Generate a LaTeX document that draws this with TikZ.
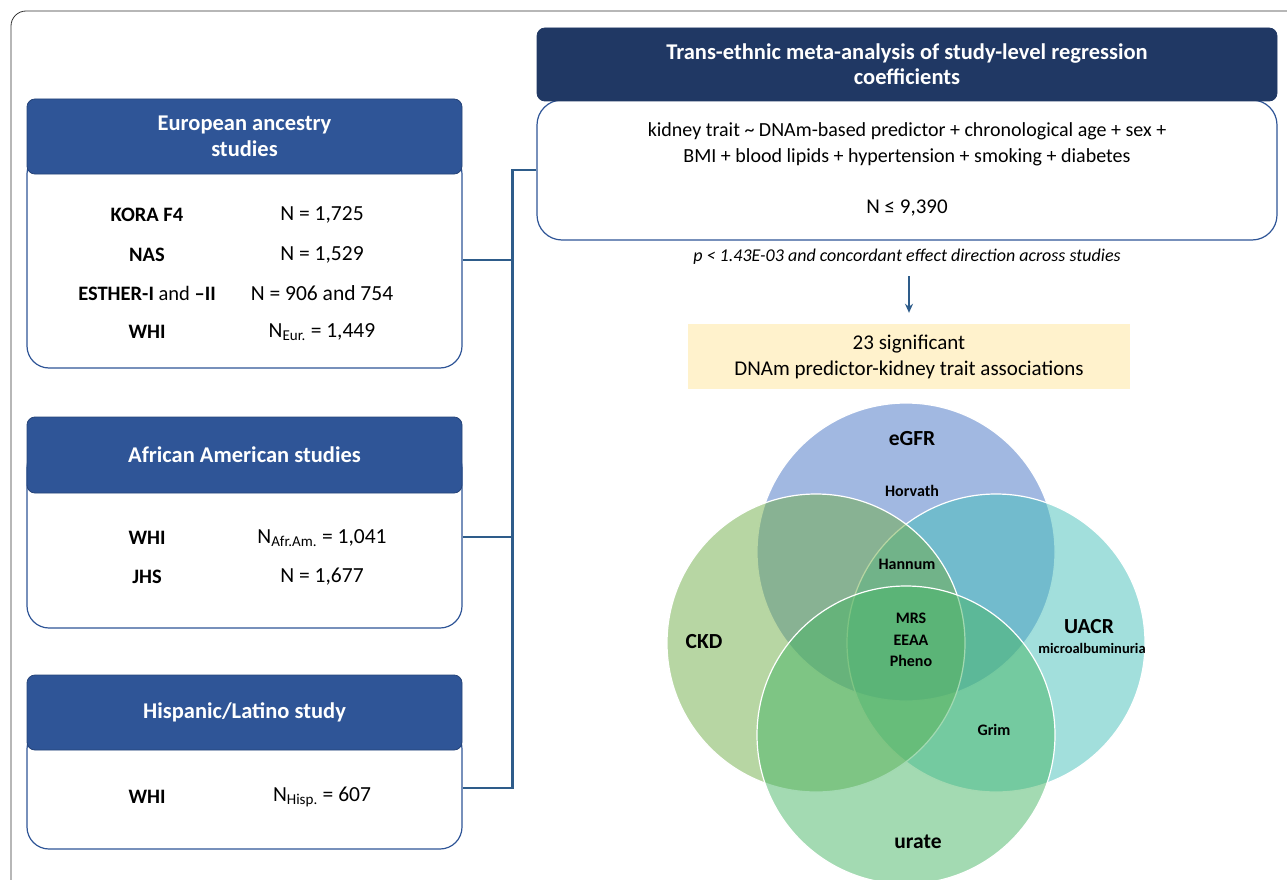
\documentclass[tikz,border=0pt]{standalone}
\usepackage{fontspec}
\setmainfont{Carlito}
\usetikzlibrary{arrows.meta}

\definecolor{hdblue}{HTML}{2F5597}
\definecolor{hdnavy}{HTML}{203864}
\definecolor{lnblue}{HTML}{2E5C8A}
\definecolor{sigyellow}{HTML}{FFF2CC}
\definecolor{cegfr}{HTML}{4472C4}
\definecolor{cckd}{HTML}{70AD47}
\definecolor{cuacr}{HTML}{45BFB9}
\definecolor{curate}{HTML}{47B565}

\begin{document}
\begin{tikzpicture}[x=1pt,y=-1pt,
  head/.style={draw=hdblue!80!black, line width=0.8pt, fill=hdblue, rounded corners=8pt,
    minimum width=435pt, minimum height=75pt, text=white, align=center,
    font=\fontsize{22.5}{26}\selectfont\bfseries},
  body/.style={draw=hdblue, line width=1.2pt, fill=white, rounded corners=22pt, minimum width=435pt},
  study/.style={font=\fontsize{20.5}{23}\selectfont\bfseries},
  count/.style={font=\fontsize{21.5}{24}\selectfont},
  link/.style={draw=lnblue, line width=2.4pt},
  venn/.style={draw=white, line width=1.2pt, fill opacity=0.5},
  trait/.style={font=\fontsize{21.5}{24}\selectfont\bfseries},
  clock/.style={font=\fontsize{16}{21.5}\selectfont\bfseries, align=center}]
\useasboundingbox (0,0) rectangle (1287,880);
\draw[black!80, line width=0.8pt, rounded corners=15pt] (11,11) rectangle (1320,920);

% European ancestry
\node[body, minimum height=216pt] (eurbody) at (244.5,260) {};
\node[head] (eurhead) at (244.5,136.5) {European ancestry\\studies};
\node[study] (kora) at (147,215) {KORA F4};
\node[count] (koran) at (322,215) {N = 1,725};
\node[study] (nas) at (147,255) {NAS};
\node[count] (nasn) at (322,255) {N = 1,529};
\node[study] (esther) at (147,293) {ESTHER-I \mdseries and \bfseries –II};
\node[count] (esthern) at (322,293) {N = 906 and 754};
\node[study] (whieur) at (147,332) {WHI};
\node[count] (whieurn) at (322,332) {N\textsubscript{Eur.} = 1,449};

% African American
\node[body, minimum height=182pt] (afrbody) at (244.5,537) {};
\node[head, minimum height=76pt] (afrhead) at (244.5,455) {African American studies};
\node[study] (whiafr) at (147,538) {WHI};
\node[count] (whiafrn) at (322,538) {N\textsubscript{Afr.Am.} = 1,041};
\node[study] (jhs) at (147,577) {JHS};
\node[count] (jhsn) at (322,577) {N = 1,677};

% Hispanic/Latino
\node[body, minimum height=122pt] (hispbody) at (244.5,788) {};
\node[head] (hisphead) at (244.5,712.5) {Hispanic/Latino study};
\node[study] (whihisp) at (147,797) {WHI};
\node[count] (whihispn) at (322,797) {N\textsubscript{Hisp.} = 607};

% meta-analysis
\node[body, minimum width=740pt, minimum height=140pt, rounded corners=25pt] (metabody) at (907,170) {};
\node[head, fill=hdnavy, draw=hdnavy, minimum width=740pt, minimum height=73pt,
  font=\fontsize{22.5}{25}\selectfont\bfseries] (metahead) at (907,64.5)
  {Trans-ethnic meta-analysis of study-level regression\\coefficients};
\node[font=\fontsize{20}{26}\selectfont, align=center] (model) at (907,144)
  {kidney trait \textasciitilde{} DNAm-based predictor + chronological age + sex +\\BMI + blood lipids + hypertension + smoking + diabetes};
\node[font=\fontsize{21}{24}\selectfont] (ntotal) at (907,208) {N ≤ 9,390};

\draw[link] (metabody.west) -- ++(-24,0) coordinate (bus) |- (hispbody.east);
\draw[link] (eurbody.east) -- (eurbody.east -| bus);
\draw[link] (afrbody.east) -- (afrbody.east -| bus);

\node[font=\fontsize{18}{20}\selectfont\itshape] (pnote) at (907,257)
  {p < 1.43E-03 and concordant effect direction across studies};
\node[fill=sigyellow, minimum width=442pt, minimum height=65pt, align=center,
  font=\fontsize{21}{26}\selectfont] (sigbox) at (909,356.5)
  {23 significant\\DNAm predictor-kidney trait associations};
\draw[lnblue, line width=1.6pt, -{Stealth[length=9pt,width=8pt]}, shorten <=8pt, shorten >=11pt]
  (pnote.south -| sigbox.north) -- (sigbox.north);

% Venn diagram
\filldraw[venn, fill=cegfr] (906,552) circle (149);
\filldraw[venn, fill=cuacr] (996,643) circle (149);
\filldraw[venn, fill=cckd] (816,643) circle (149);
\filldraw[venn, fill=curate] (906,735) circle (149);

\node[trait] (egfr) at (912,439) {eGFR};
\node[trait] (ckd) at (704,642) {CKD};
\node[trait] (uacr) at (1089,627) {UACR};
\node[font=\fontsize{14.5}{16}\selectfont\bfseries] (microalb) at (1092,648) {microalbuminuria};
\node[trait] (urate) at (918,842) {urate};
\node[clock] (horvath) at (912,491) {Horvath};
\node[clock] (hannum) at (907,564) {Hannum};
\node[clock] (core) at (911,640) {MRS\\EEAA\\Pheno};
\node[clock] (grim) at (994,730) {Grim};
\end{tikzpicture}
\end{document}
